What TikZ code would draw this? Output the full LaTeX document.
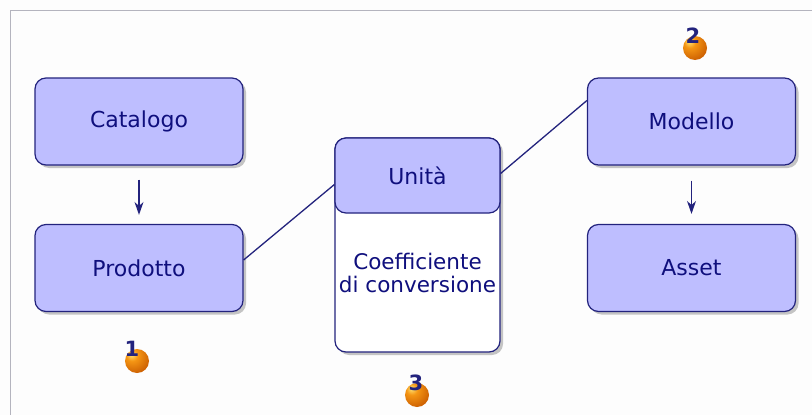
\documentclass[tikz,border=0pt]{standalone}
\usepackage{fontspec}
\setmainfont{DejaVu Sans}
\usetikzlibrary{arrows.meta,shadows,positioning,shapes.misc}
\definecolor{lav}{RGB}{190,190,255}
\definecolor{navy}{RGB}{35,35,125}
\definecolor{txt}{RGB}{15,15,125}
\definecolor{framec}{RGB}{180,180,190}
\definecolor{bg}{RGB}{253,253,253}
\definecolor{orbhi}{RGB}{255,230,120}
\definecolor{orbmid}{RGB}{245,150,20}
\definecolor{orbdark}{RGB}{200,90,0}
\definecolor{orbedge}{RGB}{140,55,0}
\pgfdeclareradialshading{orb}{\pgfpoint{-12bp}{14bp}}{%
  color(0bp)=(orbhi); color(12bp)=(orbmid); color(38bp)=(orbdark);
  color(52bp)=(orbedge); color(100bp)=(orbedge)}
\tikzset{
  ent/.style={draw=navy, line width=1.2pt, fill=lav, rounded corners=11pt,
    minimum width=208pt, minimum height=87pt, inner sep=0pt,
    font=\fontsize{22}{26}\selectfont, text=txt,
    drop shadow={shadow xshift=3pt, shadow yshift=-3pt, fill=black!45, opacity=0.5}},
  link/.style={draw=navy, line width=1.3pt},
  arr/.style={draw=navy, line width=1.3pt, -{Stealth[length=13pt,width=9pt]}},
  badge/.style={circle, minimum size=24pt, inner sep=0pt, shading=orb},
  bnum/.style={font=\bfseries\fontsize{21}{21}\selectfont, text=navy, inner sep=0pt}
}
\begin{document}
\begin{tikzpicture}[x=1pt,y=-1pt]
\useasboundingbox (0,0) rectangle (812,415);
\fill[bg] (0,0) rectangle (812,415);
\draw[framec, line width=1pt] (10,415) -- (10,10) -- (812,10);

\node[ent] (catalogo) at (139,121.5) {Catalogo};
\node[ent] (prodotto) at (139,268) {Prodotto};
\node[ent] (modello) at (691.5,121.5) {Modello};
\node[ent] (asset) at (691.5,268) {Asset};

% Unita box
\node[draw=navy, line width=1.2pt, fill=white, rounded corners=11pt,
  minimum width=165pt, minimum height=214pt, inner sep=0pt,
  drop shadow={shadow xshift=3pt, shadow yshift=-3pt, fill=black!45, opacity=0.5}]
  (unitbox) at (417.5,245) {};
\node[draw=navy, line width=1.2pt, fill=lav, rounded corners=11pt,
  minimum width=165pt, minimum height=75pt, inner sep=0pt,
  font=\fontsize{22}{26}\selectfont, text=txt, anchor=north]
  (unita) at (unitbox.north) {Unità};
\node[font=\fontsize{21.5}{23}\selectfont, text=txt, align=center, inner sep=0pt]
  (coeff) at (417.5,273) {Coefficiente\\di conversione};

\draw[arr] ([yshift=-14pt]catalogo.south) -- ([yshift=9pt]prodotto.north);
\draw[arr] ([yshift=-15pt]modello.south) -- ([yshift=10pt]asset.north);
\draw[link] ([yshift=8pt]prodotto.east) -- ([yshift=-9pt]unita.west);
\draw[link] ([yshift=2pt]unita.east) -- ([yshift=21pt]modello.west);

% badges
\node[badge] (b1) at (137,361) {};
\node[bnum] (n1) at (132,349) {1};
\node[badge] (b2) at (695,48) {};
\node[bnum] (n2) at (693,36) {2};
\node[badge] (b3) at (417,395) {};
\node[bnum] (n3) at (416,383) {3};
\end{tikzpicture}
\end{document}
